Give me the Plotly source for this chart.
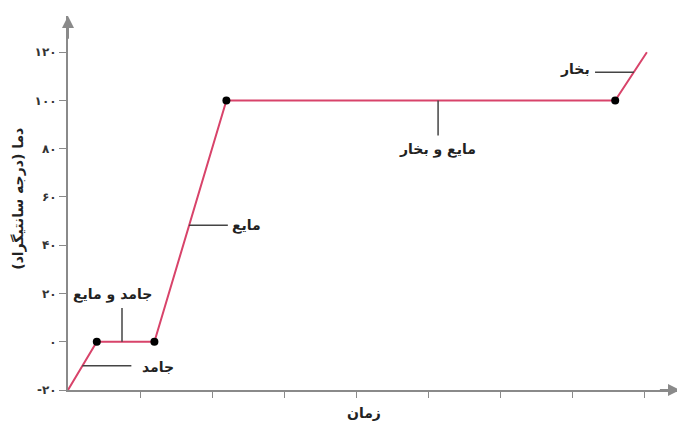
"""منحنی گرمایی آب - دما بر حسب زمان"""
import plotly.graph_objects as go

# داده‌ها
zaman = [0, 0.4, 1.2, 2.2, 7.6, 8.04]
dama = [-20, 0, 0, 100, 100, 120]

# تیک‌های محور عمودی
y_tickvals = [-20, 0, 20, 40, 60, 80, 100, 120]
y_ticktext = ['-۲۰', '۰', '۲۰', '۴۰', '۶۰', '۸۰', '۱۰۰', '۱۲۰']
x_tickvals = [1, 2, 3, 4, 5, 6, 7, 8]

# برچسب‌ها: متن، خط راهنما (x0, y0, x1, y1)، جای متن (x, y, anchor)
label_text = ['جامد', 'جامد و مایع', 'مایع', 'مایع و بخار', 'بخار']
label_line = [(0.2, -10, 0.88, -10), (0.75, 0, 0.75, 14),
              (1.68, 48.3, 2.22, 48.3), (5.14, 100, 5.14, 85.5),
              (7.86, 111.7, 7.32, 111.7)]
label_pos = [(1.0, -10.5, 'left'), (0.62, 19.5, 'center'),
             (2.25, 48.3, 'left'), (5.13, 79.5, 'center'),
             (7.28, 113, 'right')]

fa_font = dict(family='DejaVu Sans', size=14, color='#222', weight='bold')
line_color = '#d8436a'
axis_color = '#8a8a8a'

fig = go.Figure()
fig.add_trace(go.Scatter(x=zaman, y=dama, mode='lines',
                         line=dict(color=line_color, width=2),
                         hoverinfo='skip', showlegend=False))
# نقاط تغییر حالت
fig.add_trace(go.Scatter(x=zaman[1:5], y=dama[1:5], mode='markers',
                         marker=dict(color='black', size=8),
                         showlegend=False, cliponaxis=False))

# خطوط راهنما و متن برچسب‌ها
for t, ln, pos in zip(label_text, label_line, label_pos):
    fig.add_shape(type='line', x0=ln[0], y0=ln[1], x1=ln[2], y1=ln[3],
                  line=dict(color='#444', width=1.5))
    fig.add_annotation(x=pos[0], y=pos[1], text=t, showarrow=False,
                       xanchor=pos[2], font=fa_font)

# فلش محورها
fig.add_annotation(x=8.5, y=-20, ax=8.2, ay=-20, axref='x', ayref='y',
                   showarrow=True, arrowhead=2, arrowsize=1.2,
                   arrowwidth=2, arrowcolor=axis_color, text='')
fig.add_annotation(x=0, y=135, ax=0, ay=125, axref='x', ayref='y',
                   showarrow=True, arrowhead=2, arrowsize=1.2,
                   arrowwidth=2, arrowcolor=axis_color, text='')

# عنوان محورها
fig.add_annotation(x=4.11, y=0, xref='x', yref='paper', yshift=-33,
                   text='زمان', showarrow=False, font=fa_font)
fig.add_annotation(x=0, y=0.51, xref='paper', yref='paper', xshift=-60,
                   text='دما (درجه سانتیگراد)', textangle=-90,
                   showarrow=False, font=fa_font)

fig.update_xaxes(range=[0, 8.5], showgrid=False, zeroline=False,
                 showline=True, linecolor=axis_color, linewidth=2,
                 tickvals=x_tickvals, showticklabels=False,
                 ticks='outside', ticklen=6, tickcolor=axis_color)
fig.update_yaxes(range=[-20, 135], showgrid=False, zeroline=False,
                 showline=True, linecolor=axis_color, linewidth=2,
                 tickvals=y_tickvals, ticktext=y_ticktext,
                 ticks='outside', ticklen=7, tickcolor=axis_color,
                 tickfont=dict(family='DejaVu Sans', size=12, color='#333',
                               weight='bold'))
# صفحه ۸ پیکسل حاشیه دارد، پس اندازه و حاشیه‌ها جبران شده
fig.update_layout(width=677, height=430,
                  margin=dict(l=60, r=5, t=8, b=48),
                  plot_bgcolor='white', paper_bgcolor='white')
fig.write_html("out.html")
